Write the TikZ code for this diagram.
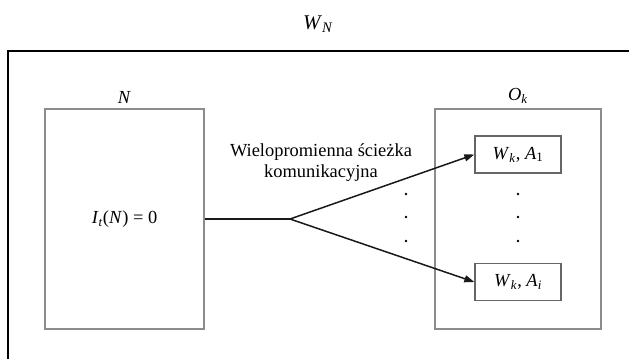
\documentclass[tikz,border=0pt]{standalone}
\usepackage{fontspec}
\setmainfont{Liberation Serif}
\usetikzlibrary{arrows.meta, positioning}
\tikzstyle{every node}=[font=\fontsize{18.5}{21}\selectfont]
\tikzset{
	bigbox/.style={draw=black!45, line width=1.3bp, minimum width=160bp, minimum height=220bp, inner sep=0pt},
	smallbox/.style={draw=black!60, line width=1.3bp, minimum width=86bp, minimum height=37bp, inner sep=0pt},
	path/.style={line width=1.5bp, draw=black!90},
	tip/.style={-{Triangle[length=10bp, width=7bp]}}
}

\begin{document}
\begin{tikzpicture}[x=1bp, y=-1bp]
	\useasboundingbox (0,0) rectangle (629,358);
	\clip (0,0) rectangle (629,358);

% frame
	\draw[line width=1.5bp] (8,380) |- (650,51);
	\node (wn) at (318,24) {\fontsize{21}{24}\selectfont\textit{W}\textsubscript{\textit{N}}};

% left box
	\node[bigbox, minimum width=159bp] (n) at (124.5,219) {\textit{I}\textsubscript{\textit{t}}(\textit{N}) = 0};
	\node[above=1bp of n] (nlab) {\textit{N}};

% right box
	\node[bigbox, minimum width=166bp] (ok) at (518,219) {};
	\node[above=1bp of ok] (oklab) {\textit{O}\textsubscript{\textit{k}}};
	\node[smallbox] (a1) at (518,154.5) {\textit{W}\textsubscript{\textit{k}}, \textit{A}\textsubscript{1}};
	\node[smallbox] (ai) at (518,282) {\textit{W}\textsubscript{\textit{k}}, \textit{A}\textsubscript{\textit{i}}};

	% dots
	\fill (406,194) circle (1.3);
	\fill (406,217) circle (1.3);
	\fill (406,241) circle (1.3);
	\fill (518,194) circle (1.3);
	\fill (518,217) circle (1.3);
	\fill (518,241) circle (1.3);

% link
	\coordinate (fork) at (290,219);
	\node[align=center] (plab) at (321,163) {Wielopromienna ścieżka\\komunikacyjna};
	\draw[path] (n.east) -- (fork);
	\draw[path, tip] (fork) -- (a1.west);
	\draw[path, tip] (fork) -- (ai.west);

\end{tikzpicture}
\end{document}
